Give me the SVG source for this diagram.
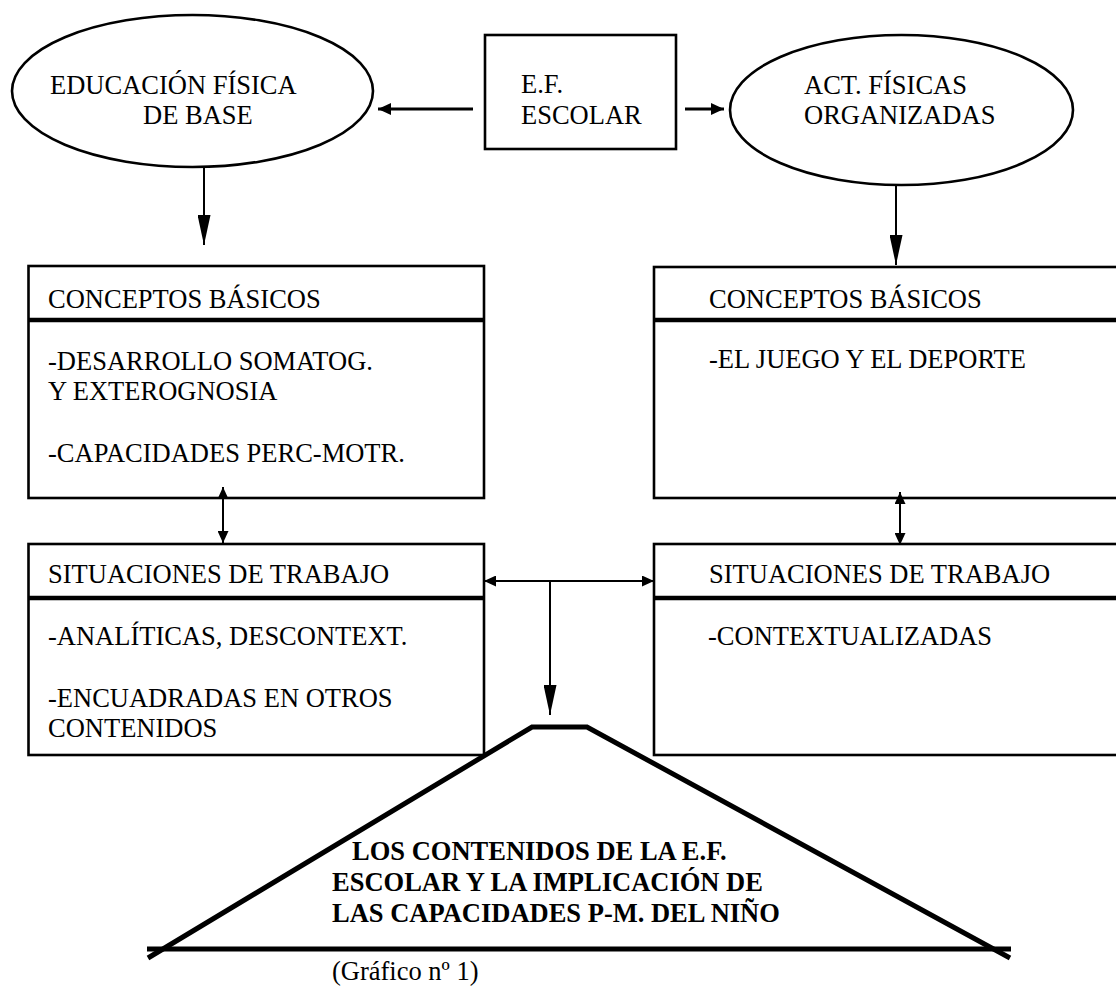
<svg xmlns="http://www.w3.org/2000/svg" width="1116" height="987" viewBox="0 0 1116 987">
  <style>
    .t { font-family: "Liberation Serif", "Times New Roman", serif; font-size: 26.5px; fill: #000; }
    .b { font-family: "Liberation Serif", "Times New Roman", serif; font-size: 26.5px; font-weight: bold; fill: #000; }
    .shape { fill: none; stroke: #000; stroke-width: 2.6; }
    .div { stroke: #000; stroke-width: 4.5; }
    .ln { fill: none; stroke: #000; stroke-width: 2; }
    .ln3 { fill: none; stroke: #000; stroke-width: 2.8; }
    .thick { fill: none; stroke: #000; stroke-width: 5; }
  </style>
  <defs>
    <marker id="ah" markerUnits="userSpaceOnUse" markerWidth="13" markerHeight="12" viewBox="0 0 13 12" refX="13" refY="6" orient="auto">
      <path d="M0,0 L13,6 L0,12 z" fill="#000"/>
    </marker>
    <marker id="av" markerUnits="userSpaceOnUse" markerWidth="30" markerHeight="13" viewBox="0 0 30 13" refX="30" refY="6.5" orient="auto">
      <path d="M0,0 L30,6.5 L0,13 z" fill="#000"/>
    </marker>
    <marker id="as" markerUnits="userSpaceOnUse" markerWidth="12" markerHeight="11" viewBox="0 0 12 11" refX="12" refY="5.5" orient="auto-start-reverse">
      <path d="M0,0 L12,5.5 L0,11 z" fill="#000"/>
    </marker>
  </defs>

  <g id="connectors">
    <line class="ln3" x1="473" y1="109" x2="378" y2="109" marker-end="url(#ah)"/>
    <line class="ln3" x1="685" y1="109" x2="724" y2="109" marker-end="url(#ah)"/>
    <line class="ln" x1="204" y1="167" x2="204" y2="245" marker-end="url(#av)"/>
    <line class="ln" x1="896" y1="185" x2="896" y2="265" marker-end="url(#av)"/>
    <line class="ln" x1="223" y1="487" x2="223" y2="543" marker-start="url(#as)" marker-end="url(#as)"/>
    <line class="ln" x1="900" y1="492" x2="900" y2="545" marker-start="url(#as)" marker-end="url(#as)"/>
    <line class="ln" x1="484" y1="581" x2="654" y2="581" marker-start="url(#as)" marker-end="url(#as)"/>
    <line class="ln" x1="550" y1="581" x2="550" y2="715" marker-end="url(#av)"/>
  </g>

  <g id="educacion-fisica-base">
    <ellipse class="shape" cx="192.5" cy="91" rx="180.5" ry="76"/>
    <text class="t" x="50" y="94">EDUCACIÓN FÍSICA</text>
    <text class="t" x="143" y="124">DE BASE</text>
  </g>

  <g id="ef-escolar">
    <rect class="shape" x="485" y="35" width="191" height="114"/>
    <text class="t" x="521" y="93">E.F.</text>
    <text class="t" x="521" y="124">ESCOLAR</text>
  </g>

  <g id="act-fisicas">
    <ellipse class="shape" cx="901.5" cy="110" rx="171.5" ry="75"/>
    <text class="t" x="804" y="94">ACT. FÍSICAS</text>
    <text class="t" x="804" y="124">ORGANIZADAS</text>
  </g>

  <g id="conceptos-izq">
    <rect class="shape" x="28.5" y="266" width="455.5" height="232"/>
    <line class="div" x1="28.5" y1="320" x2="484" y2="320"/>
    <text class="t" x="48" y="308">CONCEPTOS BÁSICOS</text>
    <text class="t" x="48" y="370">-DESARROLLO SOMATOG.</text>
    <text class="t" x="48" y="400">Y EXTEROGNOSIA</text>
    <text class="t" x="48" y="462">-CAPACIDADES PERC-MOTR.</text>
  </g>

  <g id="conceptos-der">
    <rect class="shape" x="654" y="267" width="470" height="231"/>
    <line class="div" x1="654" y1="320" x2="1124" y2="320"/>
    <text class="t" x="709" y="308">CONCEPTOS BÁSICOS</text>
    <text class="t" x="709" y="368">-EL JUEGO Y EL DEPORTE</text>
  </g>

  <g id="situaciones-izq">
    <rect class="shape" x="28.5" y="544" width="455.5" height="211"/>
    <line class="div" x1="28.5" y1="598" x2="484" y2="598"/>
    <text class="t" x="48" y="583">SITUACIONES DE TRABAJO</text>
    <text class="t" x="48" y="645">-ANALÍTICAS, DESCONTEXT.</text>
    <text class="t" x="48" y="707">-ENCUADRADAS EN OTROS</text>
    <text class="t" x="48" y="737">CONTENIDOS</text>
  </g>

  <g id="situaciones-der">
    <rect class="shape" x="654" y="544" width="470" height="211"/>
    <line class="div" x1="654" y1="598" x2="1124" y2="598"/>
    <text class="t" x="709" y="583">SITUACIONES DE TRABAJO</text>
    <text class="t" x="708" y="645">-CONTEXTUALIZADAS</text>
  </g>

  <g id="triangulo">
    <polyline class="thick" points="148,958 532,727 587,727 1010,958"/>
    <line class="thick" x1="147" y1="949" x2="1011" y2="949"/>
    <text class="b" x="352" y="860">LOS CONTENIDOS DE LA E.F.</text>
    <text class="b" x="332" y="891">ESCOLAR Y LA IMPLICACIÓN DE</text>
    <text class="b" x="332" y="922">LAS CAPACIDADES P-M. DEL NIÑO</text>
  </g>

  <text class="t" x="332" y="980">(Gráfico nº 1)</text>
</svg>
